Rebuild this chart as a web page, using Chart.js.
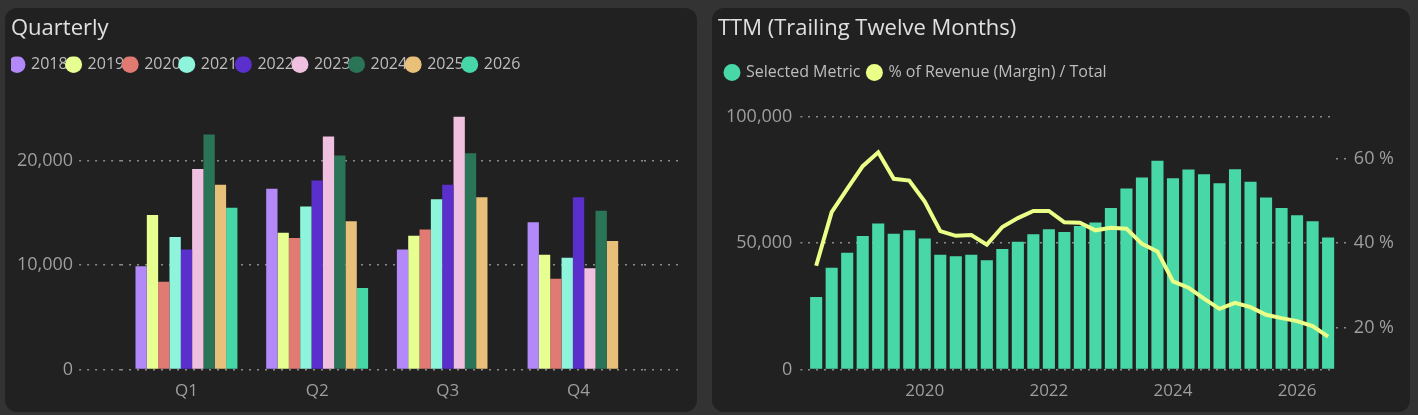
<!DOCTYPE html>
<html>
<head>
<meta charset="utf-8">
<script src="https://cdn.jsdelivr.net/npm/chart.js@4"></script>
<style>
  body { margin: 0; background: #333333; width: 1418px; height: 415px; overflow: hidden; font-family: "Open Sans", sans-serif; }
  .card { position: absolute; top: 8px; height: 404px; background: #212121; border-radius: 12px; }
  #c1 { left: 5px; width: 692px; }
  #c2 { left: 712px; width: 698px; }
  canvas { display: block; }
</style>
</head>
<body>
<div class="card" id="c1"><canvas id="quarterly" width="692" height="404"></canvas></div>
<div class="card" id="c2"><canvas id="ttm" width="698" height="404"></canvas></div>
<script>
const quarters = ["Q1", "Q2", "Q3", "Q4"];
const years = ["2018", "2019", "2020", "2021", "2022", "2023", "2024", "2025", "2026"];
const yearColors = ["#b388f9", "#e6ff90", "#e07a72", "#8ef5dc", "#5a2fcc", "#f0c0e0", "#2a7558", "#e8c07a", "#46d6a8"];
const v2018 = [9900, 17300, 11500, 14100];
const v2019 = [14800, 13100, 12800, 11000];
const v2020 = [8400, 12600, 13400, 8700];
const v2021 = [12700, 15600, 16300, 10700];
const v2022 = [11500, 18100, 17700, 16500];
const v2023 = [19200, 22300, 24200, 9700];
const v2024 = [22500, 20500, 20700, 15200];
const v2025 = [17700, 14200, 16500, 12300];
const v2026 = [15500, 7800, null, null];
const yearValues = [v2018, v2019, v2020, v2021, v2022, v2023, v2024, v2025, v2026];

const ttmLabels = ["2018 Q2","2018 Q3","2018 Q4","2019 Q1","2019 Q2","2019 Q3","2019 Q4",
  "2020 Q1","2020 Q2","2020 Q3","2020 Q4","2021 Q1","2021 Q2","2021 Q3","2021 Q4",
  "2022 Q1","2022 Q2","2022 Q3","2022 Q4","2023 Q1","2023 Q2","2023 Q3","2023 Q4",
  "2024 Q1","2024 Q2","2024 Q3","2024 Q4","2025 Q1","2025 Q2","2025 Q3","2025 Q4",
  "2026 Q1","2026 Q2","2026 Q3"];
const ttmValues = [28700, 40200, 46100, 52800, 57700, 53700, 55000, 51800, 45400, 44800, 45400, 43200,
  47600, 50500, 53500, 55400, 54300, 56700, 58100, 63800, 71500, 75900, 82500, 75600,
  79000, 77200, 73600, 79100, 74200, 68000, 63800, 61000, 58600, 52200];
const marginPct = [34.6, 47.3, 52.8, 58.2, 61.5, 55.2, 54.8, 49.8, 42.8, 41.7, 41.9, 39.6,
  43.8, 45.9, 47.6, 47.6, 44.9, 44.8, 43.0, 43.6, 43.4, 39.8, 38.0, 30.9,
  29.4, 26.8, 24.4, 25.8, 24.8, 23.0, 22.2, 21.5, 20.3, 17.8];

const textColor = "#bdbdbd";
const axisColor = "#9e9e9e";
Chart.defaults.font.family = "'Open Sans', sans-serif";
Chart.defaults.color = textColor;

// extra room under the legend
const legendMargin = {
  id: "legendMargin",
  beforeInit(chart) {
    const fit = chart.legend.fit;
    chart.legend.fit = function () { fit.bind(chart.legend)(); this.height += 26; };
  }
};

const titleOpts = (text) => ({
  display: true, text: text, align: "start", color: "#e0e0e0",
  font: { size: 22, weight: "normal" }, padding: { top: 8, bottom: 14 }
});
const legendOpts = {
  display: true, align: "start",
  labels: { usePointStyle: true, pointStyle: "circle", boxWidth: 12, boxHeight: 12, padding: 0,
    color: textColor, font: { size: 16 },
    generateLabels: (chart) => Chart.defaults.plugins.legend.labels.generateLabels(chart)
      .map(l => ({ ...l, lineWidth: 0, fillStyle: l.strokeStyle })) }
};
const gridColor = "#8a8a8a";

new Chart(document.getElementById("quarterly"), {
  type: "bar",
  data: {
    labels: quarters,
    datasets: years.map((y, i) => ({
      label: y, data: yearValues[i], backgroundColor: yearColors[i], borderColor: yearColors[i],
      categoryPercentage: 0.78, barPercentage: 1.0
    }))
  },
  options: {
    responsive: false, animation: false,
    layout: { padding: { left: 6, right: 12, bottom: 8, top: 0 } },
    plugins: { title: titleOpts("Quarterly"), legend: legendOpts, tooltip: { enabled: false } },
    scales: {
      x: { grid: { display: false }, border: { display: false }, ticks: { font: { size: 17 }, color: axisColor } },
      y: {
        min: 0, max: 25000,
        afterBuildTicks: (ax) => { ax.ticks = [0, 10000, 20000].map(v => ({ value: v })); },
        ticks: { font: { size: 18 }, color: axisColor, padding: 6 },
        grid: { color: gridColor, lineWidth: 1.5, drawTicks: true, tickLength: 42, tickBorderDash: [2, 6] },
        border: { display: false, dash: [2, 6] }
      },
      yr: {
        position: "right", min: 0, max: 25000,
        afterBuildTicks: (ax) => { ax.ticks = [0, 10000, 20000].map(v => ({ value: v })); },
        ticks: { display: true, color: "rgba(0,0,0,0)", font: { size: 1 }, padding: 0 },
        grid: { color: gridColor, lineWidth: 1.5, drawOnChartArea: false, drawTicks: true, tickLength: 38, tickBorderDash: [2, 6] },
        border: { display: false }
      }
    }
  },
  plugins: [legendMargin]
});

new Chart(document.getElementById("ttm"), {
  type: "bar",
  data: {
    labels: ttmLabels,
    datasets: [
      { type: "line", label: "% of Revenue (Margin) / Total", data: marginPct, yAxisID: "y2",
        borderColor: "#eaff88", backgroundColor: "#eaff88", borderWidth: 4, pointRadius: 0, tension: 0, order: 0 },
      { type: "bar", label: "Selected Metric", data: ttmValues, yAxisID: "y",
        backgroundColor: "#48d8a8", borderColor: "#48d8a8", categoryPercentage: 1.0, barPercentage: 0.78, order: 1 }
    ]
  },
  options: {
    responsive: false, animation: false,
    layout: { padding: { left: 6, right: 10, bottom: 8, top: 0 } },
    plugins: {
      title: titleOpts("TTM (Trailing Twelve Months)"),
      legend: { ...legendOpts, reverse: true, labels: { ...legendOpts.labels, padding: 8 } },
      tooltip: { enabled: false }
    },
    scales: {
      x: {
        grid: { display: false }, border: { display: false },
        ticks: { autoSkip: false, maxRotation: 0, font: { size: 17 }, color: axisColor,
          callback: function (v) {
            const l = this.getLabelForValue(v);
            return ["2020 Q1", "2022 Q1", "2024 Q1", "2026 Q1"].includes(l) ? l.slice(0, 4) : "";
          } }
      },
      y: {
        min: 0, max: 100000,
        afterBuildTicks: (ax) => { ax.ticks = [0, 50000, 100000].map(v => ({ value: v })); },
        ticks: { font: { size: 18 }, color: axisColor, padding: 8 },
        grid: { color: gridColor, lineWidth: 1.5, drawTicks: true, tickLength: 8, tickBorderDash: [2, 6] },
        border: { display: false, dash: [2, 6] }
      },
      y2: {
        position: "right", min: 10, max: 70,
        afterBuildTicks: (ax) => { ax.ticks = [20, 40, 60].map(v => ({ value: v })); },
        ticks: { font: { size: 18 }, color: axisColor, padding: 6, callback: (v) => v + " %" },
        grid: { display: true, drawOnChartArea: false, color: gridColor, lineWidth: 1.5, tickLength: 12, tickBorderDash: [2, 6] },
        border: { display: false }
      }
    }
  },
  plugins: [legendMargin]
});
</script>
</body>
</html>
